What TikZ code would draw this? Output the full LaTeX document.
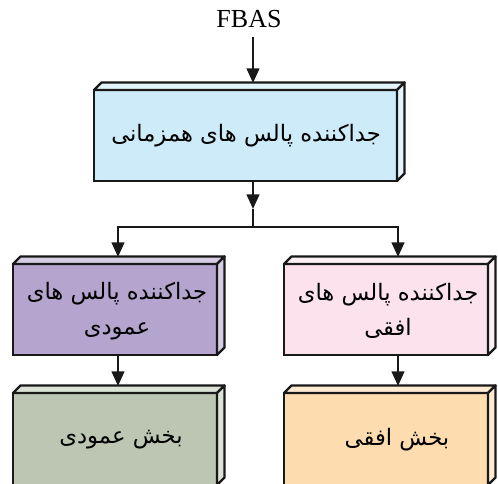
\documentclass[tikz,border=0pt]{standalone}
\usepackage{fontspec}
\usetikzlibrary{arrows.meta}
\TeXXeTstate=1
\newfontfamily\arabicfont[Script=Arabic]{DejaVu Sans}
\newfontfamily\latinserif{Liberation Serif}
\definecolor{blueF}{HTML}{CDEBF9}
\definecolor{blueS}{HTML}{E4F4FC}
\definecolor{purpF}{HTML}{B5A5CE}
\definecolor{purpS}{HTML}{D6CCE4}
\definecolor{pinkF}{HTML}{FBE2EC}
\definecolor{pinkS}{HTML}{FDF0F5}
\definecolor{greenF}{HTML}{BDC6B2}
\definecolor{greenS}{HTML}{DCE2D5}
\definecolor{peachF}{HTML}{FDDCAF}
\definecolor{peachS}{HTML}{FEEBD2}
\tikzset{
  front/.style={draw=black!90, line width=1.8pt, inner sep=0pt, outer sep=0pt, anchor=north west},
  face/.style={draw=black!90, line width=1.8pt, line join=round},
  conn/.style={line width=1.7pt, black!90},
  arr/.style={conn, -{Triangle[length=11pt,width=9.5pt]}},
  ptext/.style={font=\arabicfont\fontsize{17}{26}\selectfont, align=center, inner sep=0pt}
}
\newcommand\boxfaces[2]{%
  \filldraw[face, fill=#2] (#1.north west) -- ++(7.5,-7.5) -- ([shift={(7.5,-7.5)}]#1.north east) -- (#1.north east) -- cycle;
  \filldraw[face, fill=#2] (#1.north east) -- ++(7.5,-7.5) -- ([shift={(7.5,-7.5)}]#1.south east) -- (#1.south east) -- cycle;
}
\begin{document}
\begin{tikzpicture}[x=0.75pt,y=-0.75pt]
\useasboundingbox (0,0) rectangle (498,483);
\clip (0,0) rectangle (498,483);
% front faces
\node[front, fill=blueF, minimum width=227.25pt, minimum height=68.25pt] (sync) at (94,90) {};
\boxfaces{sync}{blueS}
\node[front, fill=purpF, minimum width=153pt, minimum height=68.25pt] (vsep) at (13,264) {};
\boxfaces{vsep}{purpS}
\node[front, fill=pinkF, minimum width=153pt, minimum height=68.25pt] (hsep) at (284,264) {};
\boxfaces{hsep}{pinkS}
\node[front, fill=greenF, minimum width=153pt, minimum height=69pt] (vsec) at (13,393) {};
\boxfaces{vsec}{greenS}
\node[front, fill=peachF, minimum width=153pt, minimum height=69pt] (hsec) at (284,393) {};
\boxfaces{hsec}{peachS}
% texts
\node[ptext] (tsync) at (246,136) {\beginR جداکننده پالس های همزمانی\endR};
\node[ptext] (tvsep) at (117,311) {\beginR جداکننده پالس های\endR\\\beginR عمودی\endR};
\node[ptext] (thsep) at (388,311) {\beginR جداکننده پالس های\endR\\\beginR افقی\endR};
\node[ptext] (tvsec) at (121,440) {\beginR بخش عمودی\endR};
\node[ptext] (thsec) at (397,440) {\beginR بخش افقی\endR};
\node[font=\latinserif\fontsize{19.5}{22}\selectfont, inner sep=0pt] (fbas) at (249,19) {FBAS};
% connector coordinates
\coordinate (inTop) at (253,83);
\coordinate (outTop) at (253,181);
\coordinate (midArr) at (253,209);
\coordinate (junc) at (253,227);
\coordinate (jl) at (118,227);
\coordinate (jr) at (398,227);
\coordinate (inV) at (118,257);
\coordinate (inH) at (398,257);
\coordinate (outV) at (118,355);
\coordinate (outH) at (398,355);
\coordinate (inVs) at (118,386);
\coordinate (inHs) at (398,386);
% connectors
\draw[arr] (fbas.south -| inTop) ++(0,9) -- (inTop);
\draw[arr] (outTop) -- (midArr);
\draw[conn] (midArr) -- (junc);
\draw[conn, line cap=rect] (jl) -- (jr);
\draw[arr] (jl) -- (inV);
\draw[arr] (jr) -- (inH);
\draw[arr] (outV) -- (inVs);
\draw[arr] (outH) -- (inHs);
\end{tikzpicture}
\end{document}
